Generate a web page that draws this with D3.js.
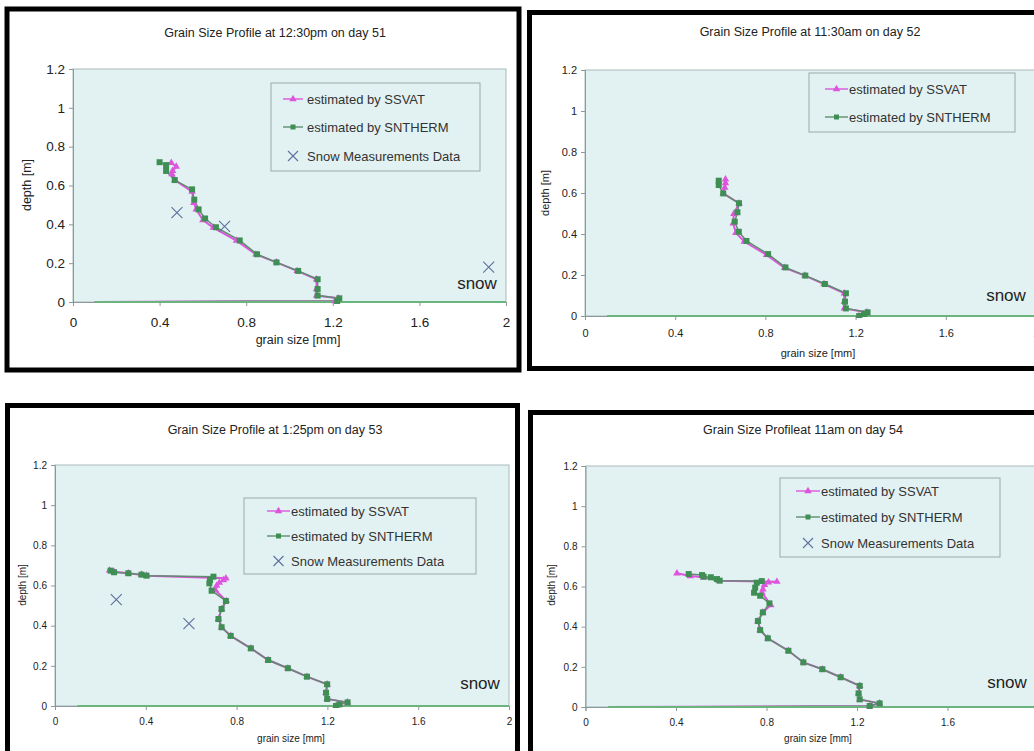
<!DOCTYPE html>
<html><head><meta charset="utf-8">
<script src="https://cdn.jsdelivr.net/npm/d3@7"></script>
<style>
body{margin:0;background:#fff;}
svg{display:block;font-family:"Liberation Sans",Arial,sans-serif;}
</style></head>
<body>
<svg id="chart" width="1034" height="751"></svg>
<script>
// ---------- data ----------
const xTicks = [0, 0.4, 0.8, 1.2, 1.6, 2];
const yTicks = [0, 0.2, 0.4, 0.6, 0.8, 1, 1.2];
const seriesNames = ["estimated by SSVAT", "estimated by SNTHERM", "Snow Measurements Data"];
const titles = ["Grain Size Profile at 12:30pm on day 51", "Grain Size Profile at 11:30am on day 52",
                "Grain Size Profile at 1:25pm on day 53", "Grain Size Profileat 11am on day 54"];
const xLabel = "grain size [mm]";
const yLabel = "depth [m]";
const layerLabel = "snow";
const groundGrain = [0.1, 2];
const groundDepth = [0, 0];

// day 51
const snth51Grain = [0.40,0.43,0.43,0.47,0.55,0.56,0.58,0.61,0.66,0.77,0.85,0.94,1.04,1.13,1.13,1.13,1.23,1.22,0.10];
const snth51Depth = [0.72,0.705,0.675,0.628,0.58,0.527,0.477,0.43,0.385,0.317,0.246,0.204,0.16,0.117,0.067,0.033,0.019,0.005,0];
const ssvat51Grain = [0.454,0.477,0.46,0.457,0.47,0.55,0.558,0.569,0.60,0.648,0.755,0.845,0.94,1.035,1.125,1.125,1.125,1.225,1.21,0.10];
const ssvat51Depth = [0.717,0.697,0.676,0.659,0.628,0.568,0.511,0.477,0.422,0.383,0.316,0.245,0.204,0.16,0.117,0.067,0.033,0.019,0.005,0];
const meas51Grain = [0.48, 0.70, 1.92];
const meas51Depth = [0.46, 0.39, 0.18];

// day 52
const snth52Grain = [0.593,0.593,0.613,0.683,0.676,0.664,0.682,0.716,0.812,0.889,0.977,1.064,1.157,1.153,1.157,1.253,1.238,1.216,0.10];
const snth52Depth = [0.66,0.639,0.598,0.55,0.506,0.46,0.411,0.366,0.302,0.237,0.197,0.156,0.111,0.07,0.037,0.018,0.01,0.0,0];
const ssvat52Grain = [0.623,0.623,0.62,0.613,0.683,0.66,0.657,0.669,0.706,0.805,0.885,0.975,1.06,1.15,1.15,1.15,1.25,1.235,1.215,0.10];
const ssvat52Depth = [0.667,0.648,0.626,0.598,0.55,0.498,0.452,0.406,0.363,0.298,0.235,0.197,0.156,0.111,0.07,0.037,0.018,0.01,0,0];
const meas52Grain = [];
const meas52Depth = [];

// day 53
const snth53Grain = [0.245,0.26,0.323,0.381,0.403,0.698,0.683,0.68,0.69,0.753,0.734,0.72,0.734,0.774,0.863,0.939,1.026,1.11,1.199,1.194,1.199,1.289,1.253,1.238,0.10];
const snth53Depth = [0.674,0.666,0.661,0.654,0.649,0.644,0.627,0.611,0.574,0.523,0.483,0.433,0.392,0.349,0.287,0.229,0.188,0.146,0.108,0.066,0.035,0.018,0.008,0,0];
const ssvat53Grain = [0.24,0.26,0.323,0.381,0.403,0.753,0.742,0.724,0.712,0.707,0.755,0.734,0.72,0.734,0.774,0.863,0.939,1.026,1.11,1.199,1.194,1.199,1.289,1.253,1.238,0.10];
const ssvat53Depth = [0.675,0.668,0.661,0.654,0.649,0.636,0.627,0.614,0.599,0.577,0.523,0.483,0.433,0.392,0.349,0.287,0.229,0.188,0.146,0.108,0.066,0.035,0.018,0.008,0,0];
const meas53Grain = [0.27, 0.59];
const meas53Depth = [0.53, 0.41];

// day 54
const snth54Grain = [0.456,0.515,0.522,0.554,0.581,0.593,0.779,0.757,0.75,0.745,0.772,0.813,0.784,0.762,0.772,0.806,0.897,0.963,1.047,1.128,1.212,1.207,1.212,1.30,1.256,0.10];
const snth54Depth = [0.662,0.657,0.649,0.646,0.637,0.629,0.627,0.619,0.594,0.569,0.554,0.516,0.471,0.428,0.383,0.342,0.28,0.222,0.188,0.148,0.105,0.068,0.038,0.018,0.005,0];
const ssvat54Grain = [0.404,0.463,0.522,0.59,0.846,0.809,0.791,0.784,0.78,0.819,0.784,0.762,0.772,0.806,0.897,0.963,1.047,1.128,1.212,1.207,1.212,1.30,1.256,0.10];
const ssvat54Depth = [0.666,0.652,0.646,0.629,0.624,0.621,0.608,0.586,0.57,0.508,0.471,0.428,0.383,0.342,0.28,0.222,0.188,0.148,0.105,0.068,0.038,0.018,0.005,0];
const meas54Grain = [];
const meas54Depth = [];

// ---------- layout (positions / styles) ----------
const panels = [
  {title: titles[0], snth:[snth51Grain,snth51Depth], ssvat:[ssvat51Grain,ssvat51Depth], meas:[meas51Grain,meas51Depth],
   frame:{x:7,y:9,w:512,h:361}, xr:[73,506], yr:[302,69], titleX:275, titleY:37, titleFs:12.5,
   tickFs:13.5, xPad:11, axFs:12.5, xLabY:344, xLabX:298, yLabX:31, yLabY:185,
   leg:{x:271,y:83,w:209,h:88,rows:[99,127,156],mx0:283,mx1:303,tx:307}, showMeasLegend:true,
   snow:{x:477,y:289}},
  {title: titles[1], snth:[snth52Grain,snth52Depth], ssvat:[ssvat52Grain,ssvat52Depth], meas:[meas52Grain,meas52Depth],
   frame:{x:529.5,y:12.5,w:520,h:356}, xr:[585,1036], yr:[316,70], titleX:810, titleY:36, titleFs:12.5,
   tickFs:11, xPad:9, axFs:11, xLabY:357, xLabX:818, yLabX:549, yLabY:193,
   leg:{x:809,y:73,w:206,h:59,rows:[89,117],mx0:825,mx1:848,tx:849}, showMeasLegend:false,
   snow:{x:1006,y:301}},
  {title: titles[2], snth:[snth53Grain,snth53Depth], ssvat:[ssvat53Grain,ssvat53Depth], meas:[meas53Grain,meas53Depth],
   frame:{x:7.5,y:405.5,w:510,h:360}, xr:[55,509], yr:[706,465], titleX:275, titleY:434, titleFs:12.5,
   tickFs:10, xPad:8, axFs:10, xLabY:742, xLabX:291, yLabX:26, yLabY:585,
   leg:{x:244,y:498,w:232,h:76,rows:[511,536,561],mx0:267,mx1:290,tx:291}, showMeasLegend:true,
   snow:{x:480,y:689}},
  {title: titles[3], snth:[snth54Grain,snth54Depth], ssvat:[ssvat54Grain,ssvat54Depth], meas:[meas54Grain,meas54Depth],
   frame:{x:530.5,y:412.5,w:520,h:360}, xr:[585.5,1038], yr:[707,466], titleX:803, titleY:434, titleFs:12.5,
   tickFs:10, xPad:8, axFs:10, xLabY:742, xLabX:818, yLabX:555, yLabY:585,
   leg:{x:780,y:478,w:220,h:79,rows:[491,517,543],mx0:796,mx1:820,tx:821}, showMeasLegend:true,
   snow:{x:1007,y:688}}
];

const C = {bg:"#e2f2f2", axis:"#8a9a9a", green:"#3f8f55", gline:"#5e8e6c", magenta:"#dd55dd",
           cross:"#5f6f9f", ground:"#6cb47e", text:"#222"};

const svg = d3.select("#chart");

panels.forEach((p, i) => {
  const g = svg.append("g");
  const x = d3.scaleLinear().domain([0, 2]).range(p.xr);
  const y = d3.scaleLinear().domain([0, 1.2]).range(p.yr);

  // frame
  g.append("rect").attr("x", p.frame.x).attr("y", p.frame.y).attr("width", p.frame.w).attr("height", p.frame.h)
    .attr("fill", "#fff").attr("stroke", "#000").attr("stroke-width", 5);

  // plot area
  g.append("rect").attr("x", x(0)).attr("y", y(1.2)).attr("width", x(2) - x(0)).attr("height", y(0) - y(1.2))
    .attr("fill", C.bg).attr("stroke", "#a9b9b9").attr("stroke-width", 1);

  // title
  g.append("text").attr("x", p.titleX).attr("y", p.titleY).attr("text-anchor", "middle")
    .attr("font-size", p.titleFs).attr("fill", C.text).text(p.title);

  // axes
  const xa = g.append("g").attr("transform", `translate(0,${y(0)})`)
    .call(d3.axisBottom(x).tickValues(xTicks).tickSize(4).tickPadding(p.xPad).tickFormat(d => String(d)));
  const ya = g.append("g").attr("transform", `translate(${x(0)},0)`)
    .call(d3.axisLeft(y).tickValues(yTicks).tickSize(4).tickPadding(4).tickFormat(d => String(d)));
  [xa, ya].forEach(a => {
    a.selectAll("path,line").attr("stroke", C.axis);
    a.selectAll("text").attr("font-size", p.tickFs).attr("fill", C.text).attr("font-family", "Liberation Sans, Arial, sans-serif");
  });

  // axis titles
  g.append("text").attr("x", p.xLabX).attr("y", p.xLabY).attr("text-anchor", "middle")
    .attr("font-size", p.axFs).attr("fill", C.text).text(xLabel);
  g.append("text").attr("transform", `translate(${p.yLabX},${p.yLabY}) rotate(-90)`).attr("text-anchor", "middle")
    .attr("font-size", p.axFs).attr("fill", C.text).text(yLabel);

  const clipId = "clip" + i;
  g.append("clipPath").attr("id", clipId).append("rect")
    .attr("x", x(0)).attr("y", y(1.2) - 5).attr("width", x(2) - x(0)).attr("height", y(0) - y(1.2) + 7);
  const pg = g.append("g").attr("clip-path", `url(#${clipId})`);

  const line = d3.line().x(d => x(d[0])).y(d => y(d[1]));
  const ssPts = p.ssvat[0].map((v, k) => [v, p.ssvat[1][k]]);
  const snPts = p.snth[0].map((v, k) => [v, p.snth[1][k]]);

  pg.append("path").datum(ssPts).attr("fill", "none").attr("stroke", C.magenta).attr("stroke-width", 2).attr("d", line);
  pg.append("path").datum(snPts).attr("fill", "none").attr("stroke", C.gline).attr("stroke-width", 1.5).attr("d", line);

  // ground line at depth 0
  const groundPts = groundGrain.map((v, k) => [v, groundDepth[k]]);
  pg.append("path").datum(groundPts).attr("fill", "none").attr("stroke", C.ground).attr("stroke-width", 1.8).attr("d", line);

  const tri = d3.symbol().type(d3.symbolTriangle).size(24);
  pg.selectAll(".tri").data(ssPts.slice(0, -1)).join("path")
    .attr("transform", d => `translate(${x(d[0])},${y(d[1])})`).attr("d", tri).attr("fill", C.magenta);
  pg.selectAll(".sq").data(snPts.slice(0, -1)).join("rect")
    .attr("x", d => x(d[0]) - 3).attr("y", d => y(d[1]) - 3).attr("width", 6).attr("height", 6).attr("fill", C.green);

  // measurements
  const mPts = p.meas[0].map((v, k) => [v, p.meas[1][k]]);
  const cross = (sel, cx, cy, s) => {
    sel.append("path").attr("d", `M${cx - s},${cy - s}L${cx + s},${cy + s}M${cx - s},${cy + s}L${cx + s},${cy - s}`)
      .attr("stroke", C.cross).attr("stroke-width", 1.1).attr("fill", "none");
  };
  mPts.forEach(d => cross(pg, x(d[0]), y(d[1]), 5.5));

  // layer label
  g.append("text").attr("x", p.snow.x).attr("y", p.snow.y).attr("text-anchor", "middle")
    .attr("font-size", 17).attr("fill", C.text).text(layerLabel);

  // legend
  const L = p.leg;
  g.append("rect").attr("x", L.x).attr("y", L.y).attr("width", L.w).attr("height", L.h)
    .attr("fill", C.bg).attr("stroke", "#9aaaaa").attr("stroke-width", 1);
  const names = p.showMeasLegend ? seriesNames : seriesNames.slice(0, 2);
  names.forEach((n, k) => {
    const ry = L.rows[k];
    const mx = (L.mx0 + L.mx1) / 2;
    if (k === 0) {
      g.append("line").attr("x1", L.mx0).attr("x2", L.mx1).attr("y1", ry).attr("y2", ry).attr("stroke", C.magenta).attr("stroke-width", 1.4);
      g.append("path").attr("transform", `translate(${mx},${ry})`).attr("d", tri).attr("fill", C.magenta);
    } else if (k === 1) {
      g.append("line").attr("x1", L.mx0).attr("x2", L.mx1).attr("y1", ry).attr("y2", ry).attr("stroke", C.gline).attr("stroke-width", 1.4);
      g.append("rect").attr("x", mx - 2.5).attr("y", ry - 2.5).attr("width", 5).attr("height", 5).attr("fill", C.green);
    } else {
      cross(g, mx, ry, 5);
    }
    g.append("text").attr("x", L.tx).attr("y", ry + 4.5).attr("font-size", 13).attr("fill", "#333").text(n);
  });
});
</script>
</body></html>
